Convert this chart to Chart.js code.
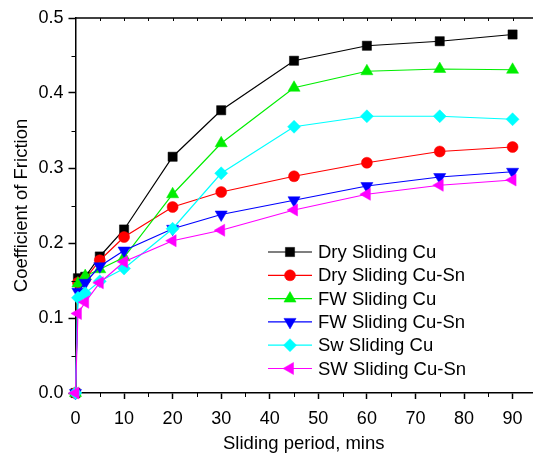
<!DOCTYPE html>
<html>
<head>
<meta charset="utf-8">
<script src="https://cdn.jsdelivr.net/npm/chart.js@4.4.1/dist/chart.umd.min.js"></script>
<style>
  body { margin: 0; background: #fff; }
  canvas { display: block; }
</style>
</head>
<body>
<canvas id="frictionChart" width="533" height="457"></canvas>
<script>
// sliding period (mins)
var periods = [0, 0.5, 2, 5, 10, 20, 30, 45, 60, 75, 90];

// coefficient of friction for each condition
var dryCu     = [0, 0.153, 0.155, 0.182, 0.218, 0.315, 0.377, 0.443, 0.463, 0.469, 0.478];
var dryCuSn   = [0, 0.147, 0.152, 0.177, 0.208, 0.248, 0.268, 0.289, 0.307, 0.322, 0.328];
var fwCu      = [0, 0.146, 0.156, 0.165, 0.181, 0.265, 0.333, 0.407, 0.429, 0.432, 0.431];
var fwCuSn    = [0, 0.135, 0.147, 0.169, 0.190, 0.219, 0.238, 0.257, 0.276, 0.288, 0.295];
var swCu      = [0, 0.127, 0.133, 0.149, 0.166, 0.219, 0.293, 0.355, 0.369, 0.369, 0.365];
var swCuSn    = [0, 0.106, 0.121, 0.147, 0.175, 0.203, 0.217, 0.244, 0.265, 0.277, 0.284];

var seriesNames = ['Dry Sliding Cu', 'Dry Sliding Cu-Sn', 'FW Sliding Cu', 'FW Sliding Cu-Sn', 'Sw Sliding Cu', 'SW Sliding Cu-Sn'];
var xTicks = [0, 10, 20, 30, 40, 50, 60, 70, 80, 90];
var yTicks = [0, 0.1, 0.2, 0.3, 0.4, 0.5];

var fontFamily = '"Liberation Sans", Arial, sans-serif';

function toPoints(values) {
  return values.map(function (v, i) { return { x: periods[i], y: v }; });
}

// marker look for each series
var styles = [
  { color: '#000000', point: 'rect',     radius: 6.5, rotation: 0 },
  { color: '#ff0000', point: 'circle',   radius: 5.5, rotation: 0 },
  { color: '#00ee00', point: 'triangle', radius: 7,   rotation: 0 },
  { color: '#0000ff', point: 'triangle', radius: 7,   rotation: 180 },
  { color: '#00ffff', point: 'rectRot',  radius: 6.5, rotation: 0 },
  { color: '#ff00ff', point: 'triangle', radius: 7,   rotation: 270 }
];

var allValues = [dryCu, dryCuSn, fwCu, fwCuSn, swCu, swCuSn];

var datasets = allValues.map(function (vals, i) {
  var s = styles[i];
  return {
    label: seriesNames[i],
    data: toPoints(vals),
    borderColor: s.color,
    backgroundColor: s.color,
    borderWidth: 1.2,
    pointStyle: s.point,
    pointRadius: s.radius,
    pointRotation: s.rotation,
    pointBorderWidth: 0.5,
    pointBackgroundColor: s.color,
    pointBorderColor: s.color,
    tension: 0,
    clip: false,
    order: 6 - i
  };
});

// minor ticks, top frame line and the legend
var framePlugin = {
  id: 'frame',
  afterDraw: function (chart) {
    var ctx = chart.ctx;
    var a = chart.chartArea;
    var x = chart.scales.x;
    var y = chart.scales.y;
    ctx.save();
    ctx.strokeStyle = '#000';
    ctx.lineWidth = 1.5;

    ctx.beginPath();
    ctx.moveTo(a.left, a.top);
    ctx.lineTo(a.right + 2, a.top);
    ctx.stroke();

    ctx.lineWidth = 1;
    for (var v = 5; v < 94; v += 5) {
      var px = Math.round(x.getPixelForValue(v)) + 0.5;
      ctx.beginPath();
      ctx.moveTo(px, a.top);
      ctx.lineTo(px, a.top + 3);
      ctx.stroke();
      if (v % 10 !== 0) {
        ctx.beginPath();
        ctx.moveTo(px, a.bottom);
        ctx.lineTo(px, a.bottom + 4);
        ctx.stroke();
      }
    }
    for (var k = 0.05; k < 0.5; k += 0.1) {
      var py = Math.round(y.getPixelForValue(k)) + 0.5;
      ctx.beginPath();
      ctx.moveTo(a.left, py);
      ctx.lineTo(a.left - 4, py);
      ctx.stroke();
    }

    // legend
    var lx = 268, ly = 252, gap = 23.3;
    ctx.font = '18.5px ' + fontFamily;
    ctx.textBaseline = 'middle';
    ctx.fillStyle = '#000';
    chart.data.datasets.forEach(function (ds, i) {
      var rowY = ly + i * gap;
      ctx.strokeStyle = ds.borderColor;
      ctx.lineWidth = 1.2;
      ctx.beginPath();
      ctx.moveTo(lx, rowY);
      ctx.lineTo(lx + 44, rowY);
      ctx.stroke();
      ctx.fillStyle = ds.pointBackgroundColor;
      ctx.strokeStyle = ds.pointBorderColor;
      ctx.lineWidth = 0.5;
      Chart.helpers.drawPoint(ctx, {
        pointStyle: ds.pointStyle,
        rotation: ds.pointRotation,
        radius: ds.pointRadius,
        borderWidth: 0.5
      }, lx + 22, rowY);
      ctx.fillStyle = '#000';
      ctx.fillText(ds.label, lx + 50, rowY + 1);
    });
    ctx.restore();
  }
};

var ctx = document.getElementById('frictionChart').getContext('2d');

var frictionChart = new Chart(ctx, {
  type: 'line',
  data: { datasets: datasets },
  plugins: [framePlugin],
  options: {
    responsive: false,
    animation: false,
    layout: { autoPadding: false, padding: { top: 18, right: 1, left: 0, bottom: 0 } },
    plugins: {
      legend: { display: false },
      tooltip: { enabled: false }
    },
    scales: {
      x: {
        type: 'linear',
        min: 0,
        max: 94,
        afterBuildTicks: function (s) { s.ticks = xTicks.map(function (v) { return { value: v }; }); },
        afterFit: function (s) { s.height = 64; s.paddingRight = 0; s.paddingLeft = 0; },
        ticks: { color: '#000', font: { family: fontFamily, size: 18 }, padding: 9, maxRotation: 0, autoSkip: false },
        grid: { drawOnChartArea: false, tickLength: 6, tickColor: '#000', tickWidth: 1.5 },
        border: { color: '#000', width: 1.5 },
        title: { display: true, text: 'Sliding period, mins', color: '#000', font: { family: fontFamily, size: 18.5 }, padding: { top: 0, bottom: 2 } }
      },
      y: {
        min: 0,
        max: 0.5,
        afterBuildTicks: function (s) { s.ticks = yTicks.map(function (v) { return { value: v }; }); },
        afterFit: function (s) { s.width = 75.5; },
        ticks: { color: '#000', font: { family: fontFamily, size: 18 }, padding: 5, callback: function (v) { return v.toFixed(1); } },
        grid: { drawOnChartArea: false, tickLength: 7, tickColor: '#000', tickWidth: 1.5 },
        border: { color: '#000', width: 1.5 },
        title: { display: true, text: 'Coefficient of Friction', color: '#000', font: { family: fontFamily, size: 18.5 }, padding: { top: 11, bottom: 0 } }
      }
    }
  }
});
</script>
</body>
</html>
